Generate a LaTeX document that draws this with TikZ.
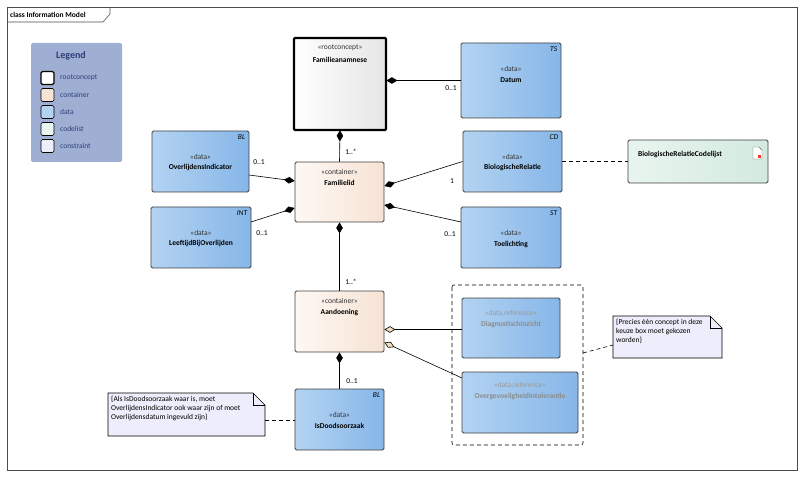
\documentclass[tikz,border=0pt]{standalone}
\usepackage{fontspec}
\setmainfont{Carlito}
\usetikzlibrary{arrows.meta,calc,shapes.misc}
\definecolor{datal}{HTML}{B3D3F2}
\definecolor{datar}{HTML}{86B6E8}
\definecolor{contl}{HTML}{FEF8F3}
\definecolor{contr}{HTML}{F6E3D5}
\definecolor{codel}{HTML}{E8F5EF}
\definecolor{coder}{HTML}{D3EADF}
\definecolor{cons}{HTML}{EDEDFB}
\definecolor{legbg}{HTML}{9FAED3}
\definecolor{legtx}{HTML}{2E3F7A}
\definecolor{tan}{HTML}{F3DDB8}
\tikzset{
  box/.style={draw=black!75, rounded corners=1.5pt, line width=0.8pt, inner sep=0pt},
  data/.style={box, left color=datal, right color=datar},
  cont/.style={box, left color=contl, right color=contr},
  code/.style={box, left color=codel, right color=coder},
  txt/.style={font=\fontsize{7.5}{9}\selectfont, align=center, inner sep=0pt},
  clsname/.style={txt, font=\fontsize{7.5}{9}\selectfont\bfseries},
  ster/.style={txt, text=black!80},
  tag/.style={font=\fontsize{7.5}{8}\selectfont\itshape, inner sep=0pt, anchor=north east},
  mult/.style={font=\fontsize{7.5}{8}\selectfont, inner sep=0pt},
  comp/.style={line width=0.6pt, {Diamond[length=11pt,width=6.5pt]}-},
  aggr/.style={line width=0.6pt, {Diamond[open,fill=tan,length=11pt,width=6.5pt]}-},
  dep/.style={line width=0.6pt, dash pattern=on 4pt off 3pt}
}
\begin{document}
\begin{tikzpicture}[x=1pt,y=-1pt]
\useasboundingbox (0,0) rectangle (800,478);
% frame
\draw[black!70, line width=0.6pt] (7,7) rectangle (797,470);
\draw[black!70, line width=0.6pt] (7,22) -- (103,22) -- (110,14) -- (110,7);
\node[clsname, anchor=west] at (10,14.5) {class Information Model};
% legend
\fill[legbg, rounded corners=2pt] (31,43) rectangle (122,162);
\node[font=\fontsize{10}{11}\selectfont\bfseries, text=legtx] at (71,56) {Legend};
\foreach \y/\c/\t/\w in {78/white/rootconcept/1.2pt, 95/contr/container/0.6pt, 112/datal/data/0.6pt, 129/codel/codelist/0.6pt, 146/cons/constraint/0.6pt}{
  \draw[fill=\c, line width=\w, rounded corners=1.5pt] (41,\y-6.5) rectangle (54,\y+6.5);
  \node[txt, anchor=west, text=legtx] at (60,\y) {\t};
}
% classes
\draw[line width=2.4pt, left color=white, right color=black!10, rounded corners=1pt] (294,38) rectangle (386,130);
\node[box, draw=none, minimum width=92pt, minimum height=92pt] (fam) at (340,84) {};
\node[ster] at (340,48) {«rootconcept»};
\node[clsname] at (340,60) {Familieanamnese};

\node[data, minimum width=100pt, minimum height=75pt] (dat) at (511,80.5) {};
\node[tag] at ($(dat.north east)+(-4,4)$) {TS};
\node[ster] at (511,69) {«data»};
\node[clsname] at (511,80) {Datum};

\node[data, minimum width=97pt, minimum height=61pt] (ovi) at (200.5,161.5) {};
\node[tag] at ($(ovi.north east)+(-4,4)$) {BL};
\node[ster] at (200.5,157) {«data»};
\node[clsname] at (200.5,168) {OverlijdensIndicator};

\node[data, minimum width=100pt, minimum height=61pt] (lbo) at (201,237.5) {};
\node[tag] at ($(lbo.north east)+(-4,4)$) {INT};
\node[ster] at (201,233) {«data»};
\node[clsname] at (201,244) {LeeftijdBijOverlijden};

\node[cont, minimum width=89pt, minimum height=60pt] (fl) at (339.5,192) {};
\node[ster] at (339.5,172) {«container»};
\node[clsname] at (339.5,183) {Familielid};

\node[data, minimum width=99pt, minimum height=61pt] (bio) at (512.5,161.5) {};
\node[tag] at ($(bio.north east)+(-4,4)$) {CD};
\node[ster] at (512.5,157) {«data»};
\node[clsname] at (512.5,168) {BiologischeRelatie};

\node[code, minimum width=140pt, minimum height=43pt] (bcl) at (698,161.5) {};
\node[clsname] at (680,154) {BiologischeRelatieCodelijst};
\draw[black!60, fill=white, line width=0.4pt] (753,147) -- (759,147) -- (762,150) -- (762,159) -- (753,159) -- cycle;
\fill[red!80] (758,155) rectangle (761,158);

\node[data, minimum width=100pt, minimum height=61pt] (toe) at (511,237.5) {};
\node[tag] at ($(toe.north east)+(-4,4)$) {ST};
\node[ster] at (511,233) {«data»};
\node[clsname] at (511,244) {Toelichting};

\node[cont, minimum width=89pt, minimum height=61pt] (aan) at (339.5,321.5) {};
\node[ster] at (339.5,301) {«container»};
\node[clsname] at (339.5,313) {Aandoening};

\draw[dep, line width=0.6pt, rounded corners=2pt] (452,285) rectangle (583,445);
\coordinate (keuze) at (583,353);

\node[data, minimum width=98pt, minimum height=60pt] (dia) at (511,328) {};
\node[ster, text=black!40] at (511,313) {«data,reference»};
\node[clsname, text=black!45] at (511,324) {DiagnostischInzicht};

\node[data, minimum width=116pt, minimum height=61pt] (ovg) at (520,402.5) {};
\node[ster, text=black!40] at (520,385) {«data,reference»};
\node[clsname, text=black!45] at (520,396) {OvergevoeligheidIntolerantie};

\node[data, minimum width=89pt, minimum height=61pt] (ido) at (339.5,419.5) {};
\node[tag] at ($(ido.north east)+(-4,4)$) {BL};
\node[ster] at (339.5,415) {«data»};
\node[clsname] at (339.5,426) {IsDoodsoorzaak};

% notes
\draw[fill=cons, line width=0.6pt] (108,393) -- (253,393) -- (265,405) -- (265,436) -- (108,436) -- cycle;
\draw[line width=0.6pt] (253,393) -- (253,405) -- (265,405);
\coordinate (n1) at (265,420);
\node[txt, align=left, anchor=north west] at (111,396) {\{Als IsDoodsoorzaak waar is, moet\\OverlijdensIndicator ook waar zijn of moet\\Overlijdensdatum ingevuld zijn\}};
\draw[fill=cons, line width=0.6pt] (613,316) -- (710,316) -- (722,328) -- (722,358) -- (613,358) -- cycle;
\draw[line width=0.6pt] (710,316) -- (710,328) -- (722,328);
\coordinate (n2) at (613,345);
\node[txt, align=left, anchor=north west] at (616,319) {\{Precies één concept in deze\\keuze box moet gekozen\\worden\}};

% connectors
\draw[comp] (fam.east |- dat.west) -- (dat.west);
\node[mult] at (451,88) {0..1};
\draw[comp] (fam.south) -- (fl.north);
\node[mult] at (351,152) {1..*};
\draw[comp] ($(fl.west)+(0,-11)$) -- (249,175);
\node[mult] at (259,162) {0..1};
\draw[comp] ($(fl.west)+(0,16)$) -- (251,222);
\node[mult] at (262,233) {0..1};
\draw[comp] ($(fl.east)+(0,-6)$) -- (bio.west);
\node[mult] at (452,181) {1};
\draw[comp] ($(fl.east)+(0,13)$) -- (461,222);
\node[mult] at (450,234) {0..1};
\draw[dep] (bio.east) -- (bcl.west);
\draw[comp] (fl.south) -- (aan.north);
\node[mult] at (351,282) {1..*};
\draw[aggr] ($(aan.east)+(0,8)$) -- (dia.west |- 0,329.5);
\draw[aggr] ($(aan.east)+(0,21)$) -- (462,378);
\draw[comp] (aan.south) -- (ido.north);
\node[mult] at (352,381) {0..1};
\draw[dep] (n1) -- (ido.west |- n1);
\draw[dep] (keuze) -- (n2);
\end{tikzpicture}
\end{document}
